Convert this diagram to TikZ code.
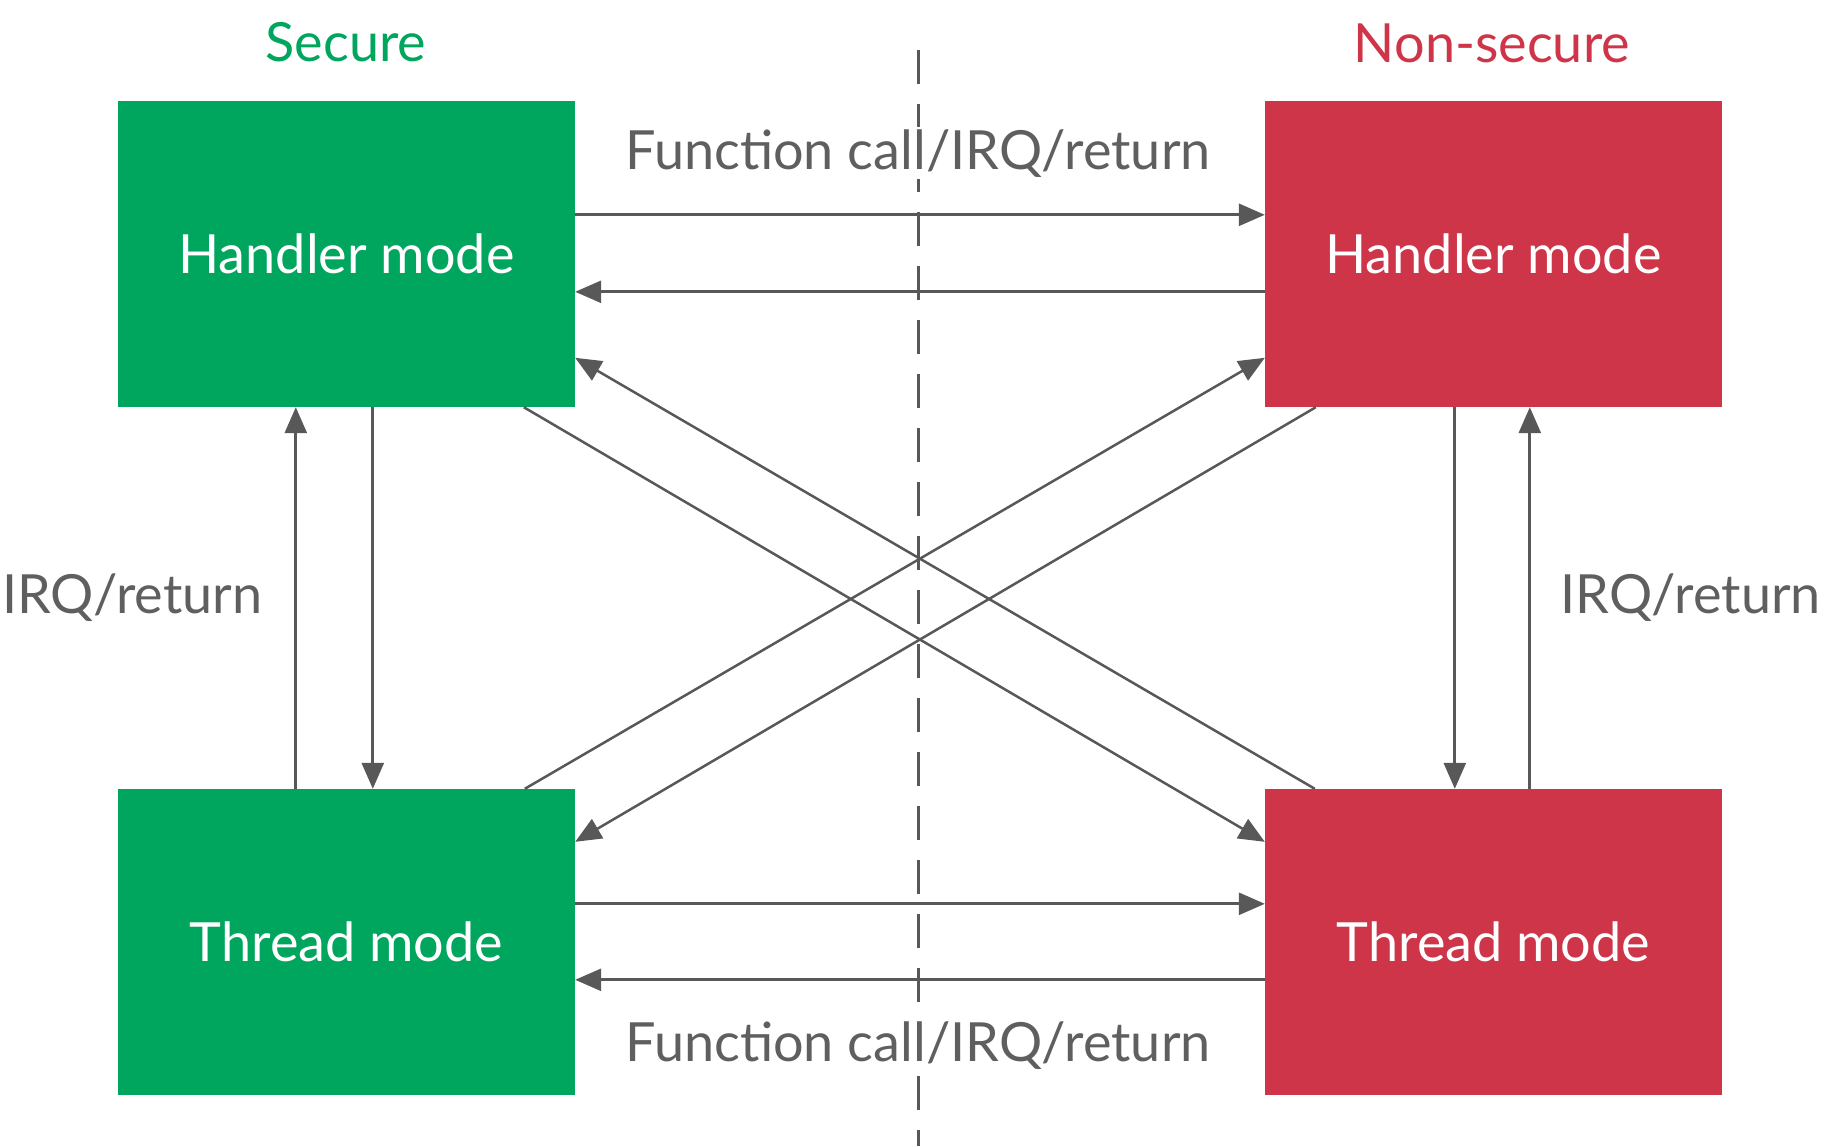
\documentclass[tikz,border=0pt]{standalone}
\usepackage{fontspec}
\setmainfont{Lato}
\definecolor{securegreen}{RGB}{0, 166, 93}
\definecolor{nonsecred}{RGB}{206, 53, 72}
\definecolor{linegray}{RGB}{88, 88, 88}
\definecolor{textgray}{RGB}{95, 95, 95}
\usetikzlibrary{arrows.meta, positioning, calc}

\begin{document}
\begin{tikzpicture}[x=1pt, y=-1pt,
    modebox/.style={minimum width=457pt, minimum height=306pt, inner sep=0pt, text=white, font=\fontsize{54pt}{60pt}\selectfont},
    lbl/.style={text=textgray, inner sep=2pt, font=\fontsize{54pt}{60pt}\selectfont},
    link/.style={draw=linegray, line width=2.8pt, -{Triangle[length=26pt, width=22pt]}}]
  \useasboundingbox (0,0) rectangle (1827,1146);

  % Boundary between the two worlds
  \coordinate (divtop) at (918,50);
  \coordinate (divbot) at (918,1146);
  \draw[linegray, line width=3pt, dash pattern=on 34pt off 20pt] (divtop) -- (divbot);

  % Headings
  \node[anchor=base, inner sep=0pt, text=securegreen, font=\fontsize{54pt}{60pt}\selectfont] (sechead) at (346,61) {Secure};
  \node[anchor=base, inner sep=0pt, text=nonsecred, font=\fontsize{54pt}{60pt}\selectfont] (nshead) at (1492,62) {Non-secure};

  % Mode boxes
  \node[modebox, fill=securegreen] (sh) at (346.5,254) {Handler mode};
  \node[modebox, fill=nonsecred] (nh) at (1493.5,254) {Handler mode};
  \node[modebox, fill=securegreen] (st) at (346.5,942) {Thread mode};
  \node[modebox, fill=nonsecred] (nt) at (1493.5,942) {Thread mode};

  % Horizontal transitions
  \draw[link] ($(sh.north east)+(0,114)$) -- ($(nh.north west)+(0,114)$);
  \draw[link] ($(nh.north west)+(0,191)$) -- ($(sh.north east)+(0,191)$);
  \draw[link] ($(st.north east)+(0,115)$) -- ($(nt.north west)+(0,115)$);
  \draw[link] ($(nt.north west)+(0,191)$) -- ($(st.north east)+(0,191)$);

  % Vertical transitions
  \draw[link] ($(st.north west)+(178,0)$) -- ($(sh.south west)+(178,0)$);
  \draw[link] ($(sh.south west)+(255,0)$) -- ($(st.north west)+(255,0)$);
  \draw[link] ($(nh.south west)+(190,0)$) -- ($(nt.north west)+(190,0)$);
  \draw[link] ($(nt.north west)+(265,0)$) -- ($(nh.south west)+(265,0)$);

  % Diagonal transitions
  \draw[link, line width=2.5pt] ($(sh.south west)+(406,0)$) -- ($(nt.north west)+(0,53)$);
  \draw[link, line width=2.5pt] ($(nt.north west)+(50,0)$) -- ($(sh.north east)+(0,257)$);
  \draw[link, line width=2.5pt] ($(st.north west)+(407,0)$) -- ($(nh.north west)+(0,257)$);
  \draw[link, line width=2.5pt] ($(nh.south west)+(51,0)$) -- ($(st.north east)+(0,53)$);

  % Labels
  \node[lbl, fill=white, anchor=base] (fctop) at (918,169) {Function call/IRQ/return};
  \node[lbl, fill=white, anchor=base] (fcbot) at (918,1061) {Function call/IRQ/return};
  \node[lbl, anchor=base west, inner sep=0pt] (irqleft) at (2,613) {IRQ/return};
  \node[lbl, anchor=base east, inner sep=0pt] (irqright) at (1821,613) {IRQ/return};
\end{tikzpicture}
\end{document}
